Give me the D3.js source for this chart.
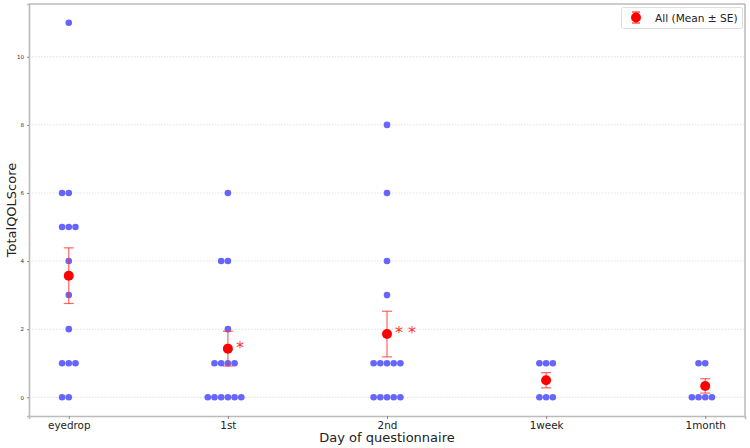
<!DOCTYPE html>
<html><head><meta charset="utf-8">
<script src="https://cdn.jsdelivr.net/npm/d3@7"></script>
<style>body{margin:0;background:#fff}svg{display:block}text{font-family:"DejaVu Sans",sans-serif}</style>
</head><body><svg id="c" width="750" height="448"></svg>
<script>
const categories = ["eyedrop","1st","2nd","1week","1month"];
const scores = {
  "eyedrop": [0,0,1,1,1,2,3,4,5,5,5,6,6,11],
  "1st":     [0,0,0,0,0,0,1,1,1,1,2,4,4,6],
  "2nd":     [0,0,0,0,0,1,1,1,1,1,3,4,6,8],
  "1week":   [0,0,0,1,1,1],
  "1month":  [0,0,0,0,1,1]
};
const significance = ["","*","* *","",""];
const yTicks = [0,2,4,6,8,10];

const svg = d3.select("#c");
const L=29, R=745, T=4, B=416;
const xi = d3.scaleLinear().domain([-0.25,categories.length-0.75]).range([L,R]);
const y = d3.scaleLinear().domain([-0.55,11.55]).range([B,T]);

// grid
svg.append("g").selectAll("line").data(yTicks).join("line")
  .attr("x1",L).attr("x2",R).attr("y1",d=>y(d)).attr("y2",d=>y(d))
  .attr("stroke","#d8d8d8").attr("stroke-width",0.8).attr("stroke-dasharray","1.5,1.5");

// spines
svg.append("line").attr("x1",L).attr("x2",R).attr("y1",T).attr("y2",T).attr("stroke","#999").attr("stroke-width",1);
svg.append("line").attr("x1",R).attr("x2",R).attr("y1",T).attr("y2",B).attr("stroke","#999").attr("stroke-width",1);

// y axis
const yAxis = d3.axisLeft(y).tickValues(yTicks).tickSize(2).tickPadding(3);
const gy = svg.append("g").attr("transform",`translate(${L},0)`).call(yAxis);
gy.select(".domain").attr("stroke","#bbb").attr("stroke-width",1.6);
gy.selectAll(".tick line").attr("stroke","#888");
gy.selectAll(".tick text").attr("font-size",5.5).attr("fill","#333").style("font-family","DejaVu Sans");

// x axis
const xAxis = d3.axisBottom(xi).tickValues(d3.range(categories.length)).tickFormat(i=>categories[i]).tickSize(3).tickPadding(3);
const gx = svg.append("g").attr("transform",`translate(0,${B})`).call(xAxis);
gx.select(".domain").attr("stroke","#bbb").attr("stroke-width",1.6);
gx.selectAll(".tick line").attr("stroke","#888");
gx.selectAll(".tick text").attr("font-size",10.4).attr("fill","#222").style("font-family","DejaVu Sans");

// swarm points
const spacing = 6.7;
categories.forEach((c,i)=>{
  const counts = d3.rollup(scores[c], v=>v.length, d=>d);
  const pts = [];
  for (const [val,n] of counts) {
    for (let k=0;k<n;k++) pts.push({val, off:k-Math.floor(n/2)});
  }
  svg.append("g").selectAll("circle").data(pts).join("circle")
    .attr("cx",d=>xi(i)+d.off*spacing).attr("cy",d=>y(d.val)).attr("r",3.3)
    .attr("fill","#6666ff");
});

// mean ± SE
const stats = categories.map((c,i)=>{
  const v = scores[c];
  const m = d3.mean(v), se = d3.deviation(v)/Math.sqrt(v.length);
  return {i,m,se};
});
const eb = svg.append("g");
stats.forEach(s=>{
  const cx = xi(s.i);
  const g = eb.append("g").attr("stroke","#ff3030").attr("stroke-opacity",0.75).attr("stroke-width",1.2);
  g.append("line").attr("x1",cx).attr("x2",cx).attr("y1",y(s.m-s.se)).attr("y2",y(s.m+s.se));
  g.append("line").attr("x1",cx-5).attr("x2",cx+5).attr("y1",y(s.m-s.se)).attr("y2",y(s.m-s.se));
  g.append("line").attr("x1",cx-5).attr("x2",cx+5).attr("y1",y(s.m+s.se)).attr("y2",y(s.m+s.se));
  eb.append("circle").attr("cx",cx).attr("cy",y(s.m)).attr("r",5).attr("fill","#ff0000");
});

// significance marks
svg.append("g").selectAll("text").data(stats.filter((s,i)=>significance[i])).join("text")
  .attr("x",s=>xi(s.i)+8).attr("y",s=>y(s.m)+4)
  .attr("font-size",16).attr("fill","#ff3030").text(s=>significance[s.i]);

// legend
const lg = svg.append("g");
lg.append("rect").attr("x",621.5).attr("y",7.5).attr("width",121).attr("height",21).attr("rx",2)
  .attr("fill","#fff").attr("stroke","#ddd");
lg.append("line").attr("x1",636).attr("x2",636).attr("y1",12).attr("y2",23).attr("stroke","#ff3030").attr("stroke-width",1.2);
lg.append("line").attr("x1",632).attr("x2",640).attr("y1",12).attr("y2",12).attr("stroke","#ff3030").attr("stroke-width",1.2);
lg.append("line").attr("x1",632).attr("x2",640).attr("y1",23).attr("y2",23).attr("stroke","#ff3030").attr("stroke-width",1.2);
lg.append("circle").attr("cx",636).attr("cy",17.5).attr("r",5).attr("fill","#ff0000");
lg.append("text").attr("x",655).attr("y",21.5).attr("font-size",10.6).attr("fill","#222").text("All (Mean ± SE)");

// axis labels
svg.append("text").attr("x",(L+R)/2).attr("y",442).attr("text-anchor","middle")
  .attr("font-size",13).attr("fill","#222").text("Day of questionnaire");
svg.append("text").attr("transform",`translate(16,${(T+B)/2}) rotate(-90)`).attr("text-anchor","middle")
  .attr("font-size",13).attr("fill","#222").text("TotalQOLScore");
</script></body></html>
